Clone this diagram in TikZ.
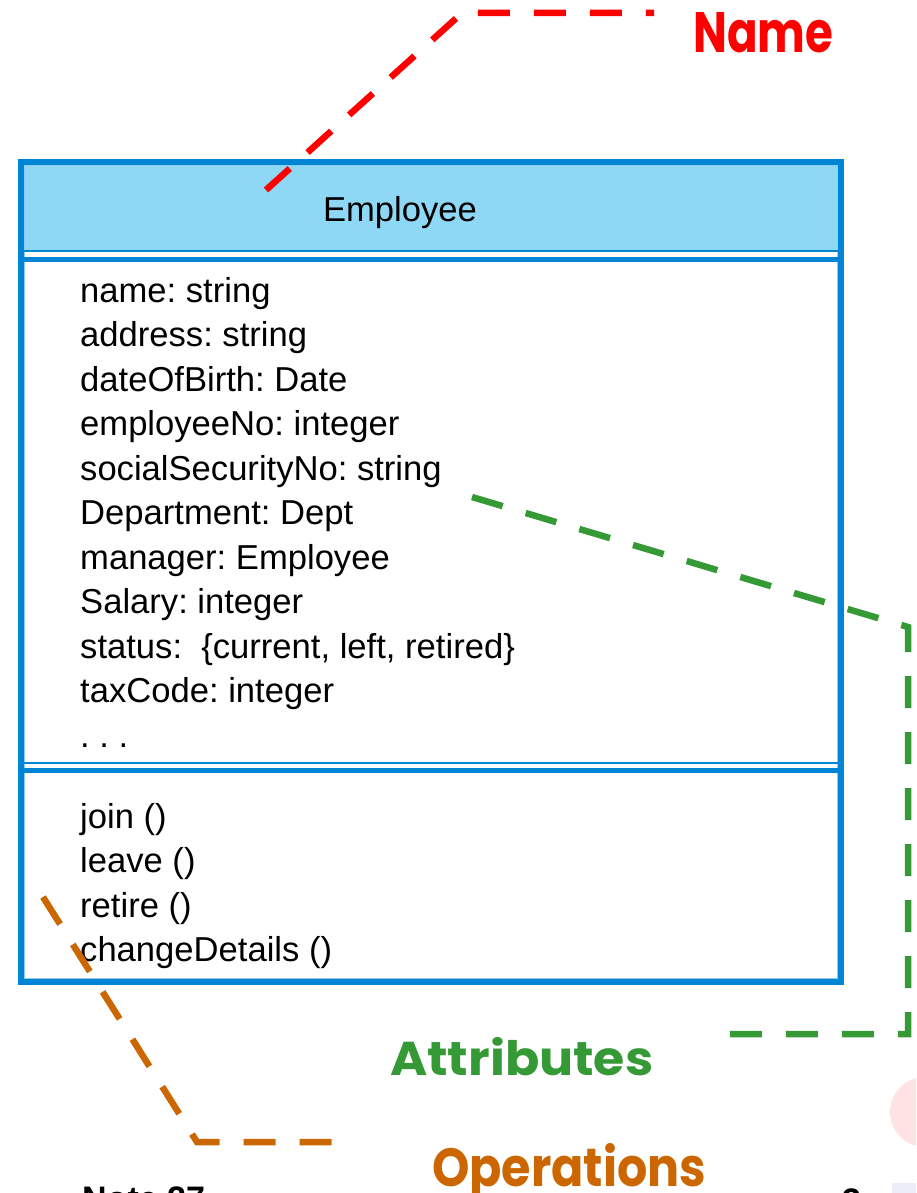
\documentclass[tikz,border=0pt]{standalone}
\usepackage{fontspec}
\setmainfont{Liberation Sans}
\newfontfamily\handfont{Poppins}
\frenchspacing
\definecolor{umlblue}{HTML}{0084D6}
\definecolor{umlhead}{HTML}{8FD8F5}
\definecolor{edgelight}{HTML}{8CCDF2}
\definecolor{namered}{HTML}{FF0000}
\definecolor{attrgreen}{HTML}{359A35}
\definecolor{opsorange}{HTML}{CC6600}
\definecolor{logopink}{HTML}{FFE2E2}
\definecolor{logolav}{HTML}{ECECF8}

\begin{document}
\begin{tikzpicture}[x=1pt,y=-1pt,
  member/.style={anchor=base west, inner sep=0pt, font=\fontsize{34.6}{40}\selectfont},
  callout/.style={line width=6.5pt, dash pattern=on 32pt off 24pt},
  tag/.style={anchor=base west, inner sep=0pt},
  footer/.style={anchor=base west, inner sep=0pt, font=\fontsize{34}{40}\selectfont\bfseries}]

\useasboundingbox (0,0) rectangle (916,1193);
\clip (0,0) rectangle (916,1193);

% logo fragments at the lower right edge
\fill[logopink] (925,1112) circle (35);
\fill[logolav] (892,1183) rectangle (916,1193);

% class box: name compartment, attributes, operations
\fill[umlhead] (21,162) rectangle (841,250);
\node[draw=umlblue, line width=6pt, minimum width=820pt, minimum height=820pt,
      inner sep=0pt, outer sep=0pt, anchor=north west] (cls) at (21,162) {};
\draw[edgelight, line width=1.2pt] (24.6,165.6) rectangle (837.4,978.4);
\draw[umlblue, line width=2pt] (24,250.5) -- (838,250.5);
\draw[umlblue, line width=5pt] (24,259) -- (838,259);
\draw[umlblue, line width=2pt] (24,762.5) -- (838,762.5);
\draw[umlblue, line width=5pt] (24,770.5) -- (838,770.5);

\node[member, anchor=base] (cname) at (400,222) {Employee};

\foreach \txt [count=\i] in {name: string, address: string, dateOfBirth: Date,
    employeeNo: integer, socialSecurityNo: string, Department: Dept,
    manager: Employee, Salary: integer, {status:\ \ \{current, left, retired\}},
    taxCode: integer, . . .}
  \node[member] (attr\i) at (80,{302+44.5*(\i-1)}) {\txt};

\foreach \txt [count=\i] in {join (), leave (), retire (), changeDetails ()}
  \node[member] (op\i) at (80,{828+44.5*(\i-1)}) {\txt};

% callout labels
\node[tag, text=namered] (lname) at (693,53)
  {\resizebox{140pt}{40pt}{\handfont\bfseries Name}};
\node[tag, text=attrgreen] (lattr) at (390,1075)
  {\resizebox{263pt}{38pt}{\handfont\bfseries Attributes}};
\node[tag, text=opsorange] (lops) at (432,1186)
  {\resizebox{274pt}{43pt}{\handfont\bfseries Operations}};

% callout leaders
\coordinate (r0) at (266,190);
\coordinate (r1) at (462,13);
\coordinate (r2) at (654,13);
\draw[callout, namered] (r0) -- (r1) -- (r2);

\coordinate (g0) at (472,497);
\coordinate (g1) at (908,627);
\coordinate (g2) at (908,1034);
\coordinate (g3) at (727,1034);
\draw[callout, attrgreen] (g0) -- (g1) -- (g2) -- (g3);

\coordinate (o0) at (43,897);
\coordinate (o1) at (197,1142);
\coordinate (o2) at (335,1142);
\draw[callout, opsorange] (o0) -- (o1) -- (o2);

% page footer, cut by the lower edge
\node[footer] (foot) at (82,1210) {Note 27};
\node[footer] (page) at (842,1212) {3};
\end{tikzpicture}
\end{document}
